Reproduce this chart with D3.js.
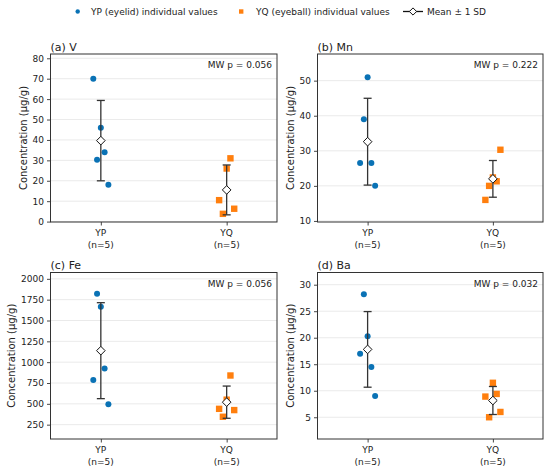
<!DOCTYPE html>
<html>
<head>
<meta charset="utf-8">
<script src="https://cdn.jsdelivr.net/npm/d3@7"></script>
<style>
body { margin: 0; background: #fff; }
text { font-family: "DejaVu Sans", sans-serif; fill: #222; }
</style>
</head>
<body>
<div id="chart"></div>
<script>
// data
var panelTitles = ["(a) V", "(b) Mn", "(c) Fe", "(d) Ba"];
var groups = ["YP", "YQ"];
var groupLabels = ["(n=5)", "(n=5)"];
var ypValues = [[70, 30.3, 46, 34, 18],
                [26.5, 39, 51, 26.5, 20],
                [785, 1820, 1665, 925, 495],
                [17, 28.2, 20.3, 14.5, 9]];
var yqValues = [[10.5, 3.8, 26, 31, 6.3],
                [16, 20, 22.4, 21.3, 30.3],
                [440, 345, 550, 840, 425],
                [8.9, 5, 11.5, 9.4, 6]];
var jitter = [-0.06, -0.03, 0, 0.03, 0.06];
var pLabels = ["MW p = 0.056", "MW p = 0.222", "MW p = 0.056", "MW p = 0.032"];
var yTicks = [[0, 10, 20, 30, 40, 50, 60, 70, 80],
              [10, 20, 30, 40, 50],
              [250, 500, 750, 1000, 1250, 1500, 1750, 2000],
              [5, 10, 15, 20, 25, 30]];
var yLimits = [[-0.2, 82.1], [9.7, 57.6], [78, 2076], [0.9, 32.3]];
var legendLabels = ["YP (eyelid) individual values", "YQ (eyeball) individual values", "Mean \u00b1 1 SD"];

var colors = ["#0a72b5", "#ff7f0e"];

// panel boxes: left, top, right, bottom
var boxes = [[50.5, 54, 277, 222], [317.5, 54, 543, 222],
             [50.5, 272.5, 277, 439], [317.5, 272.5, 543, 439]];

var svg = d3.select("#chart").append("svg")
    .attr("width", 550)
    .attr("height", 470);

function diamond(cx, cy, r) {
    return "M" + cx + "," + (cy - r) + "L" + (cx + r) + "," + cy +
           "L" + cx + "," + (cy + r) + "L" + (cx - r) + "," + cy + "Z";
}

panelTitles.forEach(function(title, p) {
    var b = boxes[p];
    var x = d3.scaleLinear().domain([-0.4, 1.4]).range([b[0], b[2]]);
    var y = d3.scaleLinear().domain(yLimits[p]).range([b[3], b[1]]);
    var g = svg.append("g");

    // grid
    g.append("g").selectAll("line")
        .data(yTicks[p])
        .enter().append("line")
        .attr("x1", b[0]).attr("x2", b[2])
        .attr("y1", function(d) { return y(d); })
        .attr("y2", function(d) { return y(d); })
        .attr("stroke", "#e4e4e4")
        .attr("stroke-width", 0.8);

    // axes
    var yAxis = g.append("g")
        .attr("transform", "translate(" + b[0] + ",0)")
        .call(d3.axisLeft(y).tickValues(yTicks[p]).tickFormat(d3.format("d"))
            .tickSize(3.5).tickPadding(3));
    var xAxis = g.append("g")
        .attr("transform", "translate(0," + b[3] + ")")
        .call(d3.axisBottom(x).tickValues([0, 1]).tickSize(3.5).tickFormat(""));
    [yAxis, xAxis].forEach(function(a) {
        a.select(".domain").remove();
        a.selectAll("line").attr("stroke", "#333").attr("stroke-width", 0.9);
        a.selectAll("text").style("font-size", "9px").attr("fill", "#222");
    });

    var maxW = 0;
    yAxis.selectAll("text").each(function() {
        maxW = Math.max(maxW, this.getComputedTextLength());
    });

    // two line x tick labels
    groups.forEach(function(gname, i) {
        var t = g.append("text")
            .attr("x", x(i))
            .attr("y", b[3] + 14)
            .attr("text-anchor", "middle")
            .style("font-size", "9px");
        t.append("tspan").attr("x", x(i)).text(gname);
        t.append("tspan").attr("x", x(i)).attr("dy", 11.5).text(groupLabels[i]);
    });

    // frame
    g.append("rect")
        .attr("x", b[0]).attr("y", b[1])
        .attr("width", b[2] - b[0]).attr("height", b[3] - b[1])
        .attr("fill", "none")
        .attr("stroke", "#333")
        .attr("stroke-width", 1);

    // y label
    g.append("text")
        .attr("transform", "translate(" + (b[0] - 6.5 - maxW - 9.5) + "," + ((b[1] + b[3]) / 2) + ") rotate(-90)")
        .attr("text-anchor", "middle")
        .attr("dy", "0.35em")
        .style("font-size", "10px")
        .text("Concentration (\u00b5g/g)");

    // title
    g.append("text")
        .attr("x", b[0])
        .attr("y", b[1] - 3.5)
        .style("font-size", "11px")
        .text(title);

    // p value
    g.append("text")
        .attr("x", b[2] - 5)
        .attr("y", b[1] + 14)
        .attr("text-anchor", "end")
        .style("font-size", "9px")
        .text(pLabels[p]);

    var sets = [ypValues[p], yqValues[p]];

    // points
    g.append("g").selectAll("circle")
        .data(sets[0])
        .enter().append("circle")
        .attr("cx", function(d, i) { return x(0 + jitter[i]); })
        .attr("cy", function(d) { return y(d); })
        .attr("r", 3)
        .attr("fill", colors[0]);

    g.append("g").selectAll("rect")
        .data(sets[1])
        .enter().append("rect")
        .attr("x", function(d, i) { return x(1 + jitter[i]) - 3.2; })
        .attr("y", function(d) { return y(d) - 3.2; })
        .attr("width", 6.4)
        .attr("height", 6.4)
        .attr("fill", colors[1]);

    // mean +- sd
    sets.forEach(function(vals, i) {
        var m = d3.mean(vals), sd = d3.deviation(vals);
        var cx = x(i);
        var eb = g.append("g").attr("stroke", "#333").attr("stroke-width", 1.3);
        eb.append("line").attr("x1", cx).attr("x2", cx).attr("y1", y(m - sd)).attr("y2", y(m + sd));
        eb.append("line").attr("x1", cx - 4).attr("x2", cx + 4).attr("y1", y(m - sd)).attr("y2", y(m - sd));
        eb.append("line").attr("x1", cx - 4).attr("x2", cx + 4).attr("y1", y(m + sd)).attr("y2", y(m + sd));
        g.append("path")
            .attr("d", diamond(cx, y(m), 4.3))
            .attr("fill", "#fff")
            .attr("stroke", "#111")
            .attr("stroke-width", 1);
    });
});

// legend
var leg = svg.append("g");
leg.append("circle").attr("cx", 77.7).attr("cy", 11.5).attr("r", 2.2).attr("fill", colors[0]);
leg.append("rect").attr("x", 239).attr("y", 9.3).attr("width", 4.4).attr("height", 4.4).attr("fill", colors[1]);
leg.append("line").attr("x1", 403).attr("x2", 423).attr("y1", 11.5).attr("y2", 11.5)
    .attr("stroke", "#111").attr("stroke-width", 1.3);
leg.append("path").attr("d", diamond(413, 11.5, 3.6))
    .attr("fill", "#fff").attr("stroke", "#111").attr("stroke-width", 1);
[91, 256, 427].forEach(function(lx, i) {
    leg.append("text")
        .attr("x", lx)
        .attr("y", 11.5)
        .attr("dy", "0.35em")
        .style("font-size", "9px")
        .text(legendLabels[i]);
});
</script>
</body>
</html>
